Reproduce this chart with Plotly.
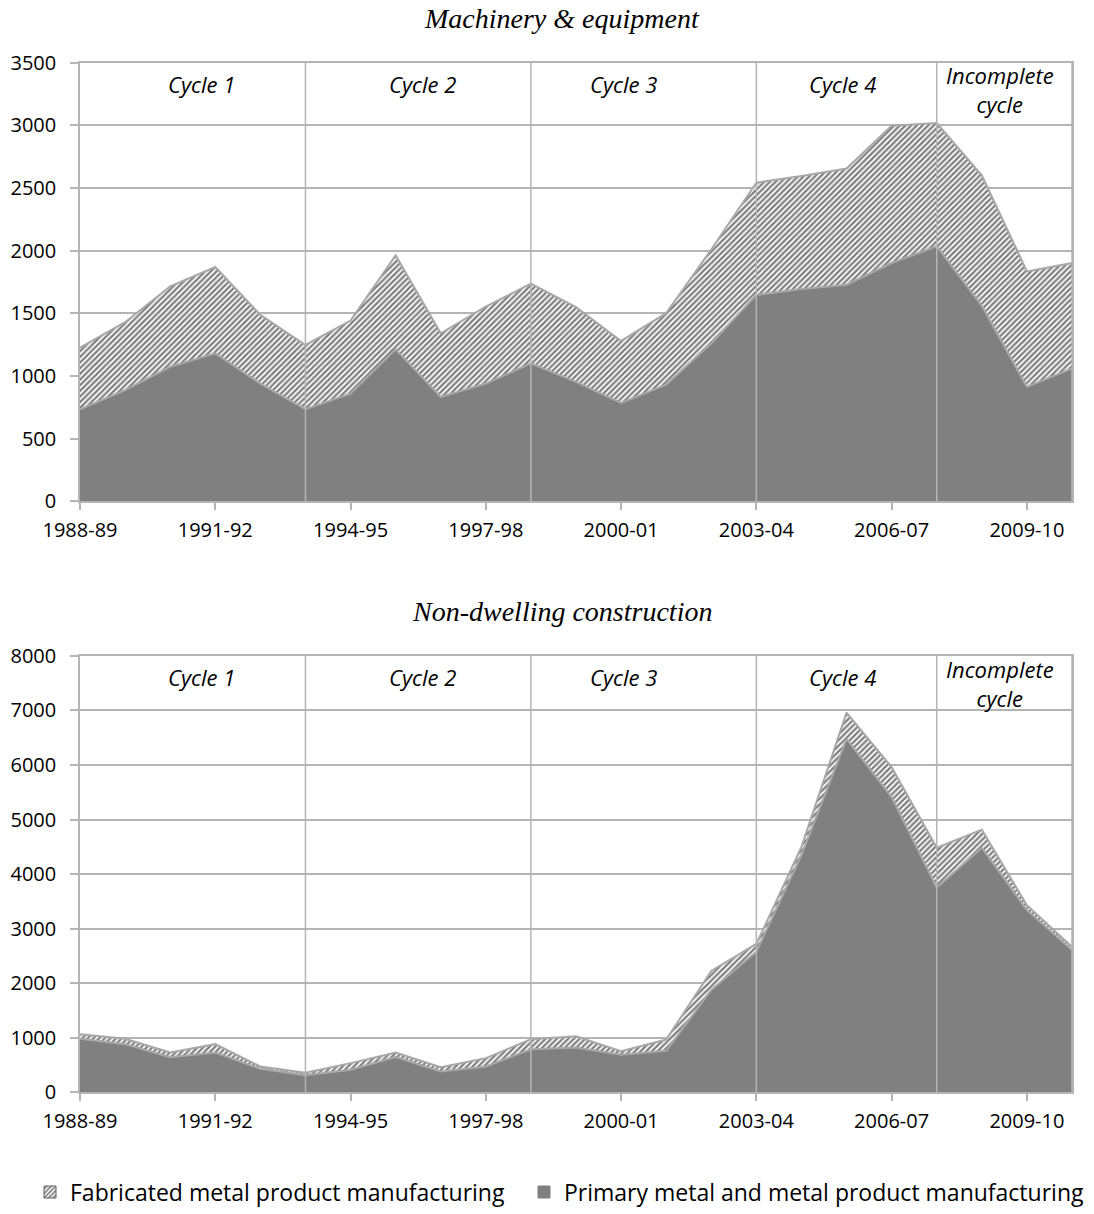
import plotly.graph_objects as go

# Financial years on the category axis
years = ["1988-89", "1989-90", "1990-91", "1991-92", "1992-93", "1993-94",
         "1994-95", "1995-96", "1996-97", "1997-98", "1998-99", "1999-00",
         "2000-01", "2001-02", "2002-03", "2003-04", "2004-05", "2005-06",
         "2006-07", "2007-08", "2008-09", "2009-10", "2010-11"]
tick_labels = ["1988-89", "1991-92", "1994-95", "1997-98",
               "2000-01", "2003-04", "2006-07", "2009-10"]

# Machinery & equipment
mach_primary = [735, 887, 1074, 1181, 940, 735, 860, 1213, 834, 940, 1101, 954,
                785, 932, 1261, 1648, 1694, 1729, 1902, 2036, 1560, 914, 1061]
mach_fabricated = [491, 543, 641, 689, 548, 513, 583, 751, 507, 615, 636, 596,
                   495, 570, 749, 895, 903, 927, 1096, 983, 1042, 921, 841]

# Non-dwelling construction
constr_primary = [981, 884, 646, 731, 433, 315, 414, 646, 384, 475, 790, 823,
                  689, 762, 1877, 2578, 4350, 6478, 5411, 3754, 4485, 3339, 2608]
constr_fabricated = [85, 97, 85, 153, 42, 45, 122, 85, 79, 153, 185, 207,
                     66, 206, 348, 142, 150, 482, 549, 731, 329, 91, 61]

# Business cycles: label text, label position (category index), closing year
cycle_names = ["Cycle 1", "Cycle 2", "Cycle 3", "Cycle 4", "Incomplete<br>cycle"]
cycle_label_x = [2.69, 7.6, 12.06, 16.9, 20.4]
cycle_ends = ["1993-94", "1998-99", "2003-04", "2007-08", "2010-11"]

name_fab = "Fabricated metal product manufacturing"
name_pri = "Primary metal and metal product manufacturing"

W, H = 1094, 1214
GRID = "#b4b4b4"
EDGE = "#a8a8a8"
DARK = "#808080"
TICK_FONT = dict(family="Open Sans", size=20, color="black")
HATCH = dict(shape="/", fgcolor="black", bgcolor="white", size=4, solidity=0.55)

fig = go.Figure()

panels = [
    dict(ax="", prim=mach_primary, fab=mach_fabricated, ymax=3500, dtick=500,
         top=63, bottom=503, title="Machinery & equipment", title_y=19,
         one_line_y=3330, two_line_y=3284),
    dict(ax="2", prim=constr_primary, fab=constr_fabricated, ymax=8000, dtick=1000,
         top=658, bottom=1096, title="Non-dwelling construction", title_y=614,
         one_line_y=7615, two_line_y=7497),
]

x_dom = [80 / W, 1072 / W]

for i, p in enumerate(panels):
    xa, ya = "x" + p["ax"], "y" + p["ax"]
    grp = "stack" + str(i)
    fig.add_trace(go.Scatter(
        x=years, y=p["prim"], stackgroup=grp, mode="lines",
        line=dict(color=EDGE, width=2), fillcolor=DARK,
        name=name_pri, showlegend=False, xaxis=xa, yaxis=ya, hoverinfo="skip"))
    fig.add_trace(go.Scatter(
        x=years, y=p["fab"], stackgroup=grp, mode="lines",
        line=dict(color=EDGE, width=2), fillcolor="white", fillpattern=HATCH,
        name=name_fab, showlegend=False, xaxis=xa, yaxis=ya, hoverinfo="skip"))

    dom = [1 - p["bottom"] / H, 1 - p["top"] / H]
    fig.update_layout({
        "xaxis" + p["ax"]: dict(
            type="category", categoryorder="array", categoryarray=years,
            range=[0, len(years) - 1], domain=x_dom, anchor=ya,
            tickmode="array", tickvals=tick_labels, ticktext=tick_labels,
            ticks="outside", ticklen=7, tickwidth=1.5, tickcolor=GRID,
            ticklabelstandoff=3,
            showline=True, linecolor=GRID, linewidth=1.5, mirror=True,
            showgrid=False, tickfont=TICK_FONT, automargin=False, fixedrange=True),
        "yaxis" + p["ax"]: dict(
            range=[0, p["ymax"]], dtick=p["dtick"], domain=dom, anchor=xa,
            ticks="outside", ticklen=8, tickwidth=1.5, tickcolor=GRID,
            ticklabelstandoff=10,
            showline=True, linecolor=GRID, linewidth=1.5, mirror=True,
            showgrid=True, gridcolor=GRID, gridwidth=1.5, zeroline=False,
            tickfont=TICK_FONT, automargin=False, fixedrange=True),
    })

    # cycle boundaries drawn over the areas
    for end in cycle_ends:
        fig.add_shape(type="line", xref=xa, yref=ya + " domain",
                      x0=years.index(end), x1=years.index(end), y0=0, y1=1,
                      line=dict(color=GRID, width=1.5), layer="above")

    for name, cx in zip(cycle_names, cycle_label_x):
        fig.add_annotation(
            x=cx, y=p["two_line_y"] if "<br>" in name else p["one_line_y"],
            xref=xa, yref=ya, text="<i>" + name + "</i>", showarrow=False,
            font=dict(family="Open Sans", size=22, color="black"),
            xanchor="center", yanchor="middle")

    fig.add_annotation(
        x=562 / W, y=1 - p["title_y"] / H, xref="paper", yref="paper",
        text="<i>" + p["title"] + "</i>", showarrow=False,
        font=dict(family="Liberation Serif", size=28, color="black"),
        xanchor="center", yanchor="middle")

# Legend entries (square swatches)
fig.add_trace(go.Bar(
    x=[None], y=[None], name=name_fab, legend="legend",
    marker=dict(color="white", pattern=HATCH, line=dict(color="#606060", width=1)),
    xaxis="x2", yaxis="y2", hoverinfo="skip"))
fig.add_trace(go.Bar(
    x=[None], y=[None], name=name_pri, legend="legend2",
    marker=dict(color=DARK, line=dict(color=DARK, width=1)),
    xaxis="x2", yaxis="y2", hoverinfo="skip"))

LEG_FONT = dict(family="Open Sans", size=23, color="black")
fig.update_layout(
    width=W, height=H,
    margin=dict(l=0, r=0, t=0, b=0),
    paper_bgcolor="white", plot_bgcolor="white",
    showlegend=True,
    legend=dict(x=30 / W, y=1 - 1196 / H, xanchor="left", yanchor="middle",
                orientation="h", font=LEG_FONT, bgcolor="rgba(0,0,0,0)"),
    legend2=dict(x=524 / W, y=1 - 1196 / H, xanchor="left", yanchor="middle",
                 orientation="h", font=LEG_FONT, bgcolor="rgba(0,0,0,0)"),
)

fig.write_html("out.html")
